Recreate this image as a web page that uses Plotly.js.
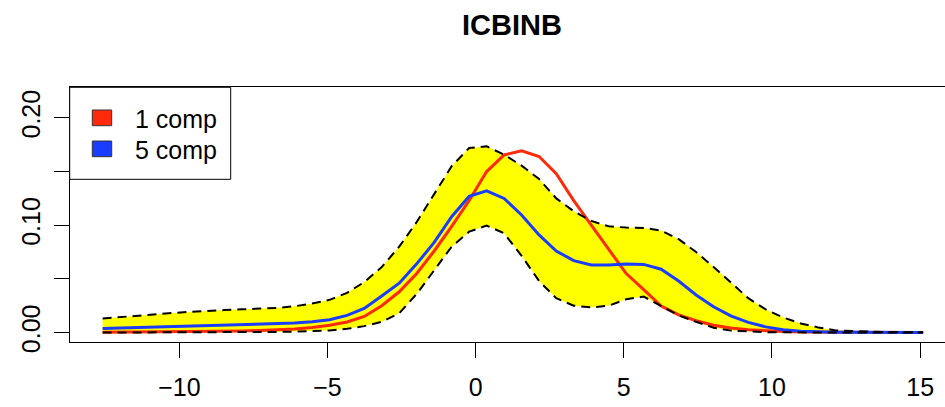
<!DOCTYPE html>
<html><head><meta charset="utf-8">
<script src="https://cdn.plot.ly/plotly-3.0.1.min.js"></script>
<style>html,body{margin:0;padding:0;overflow:hidden;background:#fff}#chart{width:956px;height:407px}</style>
</head><body><div id="chart"></div><script>
const chartTitle = 'ICBINB';
const seriesNames = ['1 comp', '5 comp'];
const xGrid = [-12.59,-12.00,-11.41,-10.82,-10.23,-9.64,-9.06,-8.47,-7.88,-7.29,-6.70,-6.11,-5.52,-4.93,-4.34,-3.76,-3.17,-2.58,-1.99,-1.40,-0.81,-0.22,0.37,0.96,1.55,2.14,2.72,3.31,3.90,4.49,5.08,5.67,6.26,6.85,7.44,8.03,8.61,9.20,9.79,10.38,10.97,11.56,12.15,12.74,13.33,13.92,14.51,15.10];
const oneComp = [0.0003,0.0004,0.0005,0.0006,0.0007,0.0008,0.0010,0.0012,0.0015,0.0019,0.0025,0.0034,0.0048,0.0068,0.0098,0.0150,0.0250,0.0380,0.0550,0.0760,0.0990,0.1230,0.1500,0.1655,0.1694,0.1640,0.1480,0.1230,0.1000,0.0770,0.0550,0.0400,0.0247,0.0165,0.0110,0.0068,0.0042,0.0026,0.0016,0.0010,0.0006,0.0004,0.0003,0.0002,0.0001,0.0001,0.0000,0.0000];
const fiveComp = [0.0037,0.0042,0.0047,0.0052,0.0057,0.0062,0.0066,0.0069,0.0072,0.0076,0.0081,0.0088,0.0100,0.0120,0.0160,0.0225,0.0340,0.0460,0.0640,0.0840,0.1080,0.1270,0.1320,0.1250,0.1096,0.0910,0.0760,0.0670,0.0629,0.0629,0.0638,0.0635,0.0590,0.0480,0.0350,0.0240,0.0155,0.0095,0.0053,0.0027,0.0012,0.0006,0.0003,0.0002,0.0001,0.0001,0.0000,0.0000];
const bandUpper = [0.0131,0.0145,0.0158,0.0170,0.0182,0.0193,0.0203,0.0210,0.0216,0.0222,0.0230,0.0245,0.0270,0.0305,0.0370,0.0470,0.0610,0.0800,0.1030,0.1290,0.1550,0.1720,0.1735,0.1657,0.1555,0.1430,0.1250,0.1130,0.1040,0.0990,0.0978,0.0975,0.0950,0.0870,0.0750,0.0610,0.0470,0.0320,0.0215,0.0140,0.0085,0.0048,0.0020,0.0012,0.0008,0.0005,0.0003,0.0002];
const bandLower = [0.0000,0.0000,0.0000,0.0000,0.0000,0.0001,0.0001,0.0002,0.0003,0.0004,0.0006,0.0009,0.0013,0.0020,0.0035,0.0060,0.0100,0.0180,0.0360,0.0580,0.0800,0.0940,0.0997,0.0925,0.0715,0.0480,0.0320,0.0250,0.0234,0.0250,0.0310,0.0335,0.0245,0.0160,0.0100,0.0045,0.0018,0.0008,0.0004,0.0002,0.0001,0.0001,0.0000,0.0000,0.0000,0.0000,0.0000,0.0000];
const xTickVals = [-10,-5,0,5,10,15];
const xTickText = ['\u221210','\u22125','0','5','10','15'];
const yTickVals = [0,0.05,0.1,0.15,0.2];
const yTickText = ['0.00','','0.10','','0.20'];

const RED = '#FF2A0A', BLUE = '#1A3CFF';
const W = 956, H = 407, ML = 70, MR = 0, MT = 87, MB = 65;
const PW = W - ML - MR, PH = H - MT - MB;
const px = v => (v - ML) / PW;
const py = v => (H - MB - v) / PH;
const font = 'Liberation Sans, Arial, sans-serif';

const traces = [
  {x: xGrid, y: bandLower, type: 'scatter', mode: 'lines', line: {width: 0}, hoverinfo: 'skip', showlegend: false},
  {x: xGrid, y: bandUpper, type: 'scatter', mode: 'lines', fill: 'tonexty', fillcolor: '#FFFF00', line: {width: 0}, hoverinfo: 'skip', showlegend: false},
  {x: xGrid, y: oneComp, type: 'scatter', mode: 'lines', name: seriesNames[0], line: {color: RED, width: 3}, showlegend: false},
  {x: xGrid, y: fiveComp, type: 'scatter', mode: 'lines', name: seriesNames[1], line: {color: BLUE, width: 3}, showlegend: false},
  {x: xGrid, y: bandUpper, type: 'scatter', mode: 'lines', line: {color: '#000', width: 2, dash: '9px,6px'}, showlegend: false},
  {x: xGrid, y: bandLower, type: 'scatter', mode: 'lines', line: {color: '#000', width: 2, dash: '9px,6px'}, showlegend: false}
];

const shapes = [
  {type: 'rect', xref: 'paper', yref: 'paper', x0: px(69.7), x1: px(230.7), y0: py(179.3), y1: py(87.3), line: {color: '#000', width: 1}, fillcolor: '#fff'},
  {type: 'rect', xref: 'paper', yref: 'paper', x0: px(92.3), x1: px(111.7), y0: py(125.7), y1: py(110), line: {color: '#333', width: 1}, fillcolor: RED},
  {type: 'rect', xref: 'paper', yref: 'paper', x0: px(92.3), x1: px(111.7), y0: py(156.7), y1: py(141), line: {color: '#333', width: 1}, fillcolor: BLUE}
];
const annotations = [
  {xref: 'paper', yref: 'paper', x: px(133), y: py(118.5), xanchor: 'left', yanchor: 'middle', text: seriesNames[0], showarrow: false, font: {family: font, size: 25, color: '#000'}},
  {xref: 'paper', yref: 'paper', x: px(133), y: py(149.5), xanchor: 'left', yanchor: 'middle', text: seriesNames[1], showarrow: false, font: {family: font, size: 25, color: '#000'}}
];

const layout = {
  width: W, height: H,
  margin: {l: ML, r: MR, t: MT, b: MB, pad: 0},
  paper_bgcolor: '#fff', plot_bgcolor: '#fff',
  showlegend: false,
  title: {text: '<b>' + chartTitle + '</b>', xref: 'container', yref: 'container', x: 512 / W, y: 1 - 25 / H, xanchor: 'center', yanchor: 'middle', font: {family: font, size: 29, color: '#000'}},
  xaxis: {range: [-13.69, 16.21], tickmode: 'array', tickvals: xTickVals, ticktext: xTickText, ticks: 'outside', ticklen: 15, tickwidth: 1, tickcolor: '#000',
    showgrid: false, zeroline: false, showline: true, linecolor: '#000', linewidth: 1, mirror: true, automargin: false,
    tickfont: {family: font, size: 25, color: '#000'}, ticklabelstandoff: 8},
  yaxis: {range: [-0.0088, 0.2288], tickmode: 'array', tickvals: yTickVals, ticktext: yTickText, ticks: 'outside', ticklen: 15, tickwidth: 1, tickcolor: '#000',
    showgrid: false, zeroline: false, showline: true, linecolor: '#000', linewidth: 1, mirror: true, automargin: false, tickangle: -90,
    tickfont: {family: 'Liberation Sans Narrow, Liberation Sans, Arial, sans-serif', size: 25, color: '#000'}, ticklabelstandoff: 4},
  shapes: shapes,
  annotations: annotations
};
Plotly.newPlot('chart', traces, layout, {displayModeBar: false, staticPlot: true});
</script></body></html>
